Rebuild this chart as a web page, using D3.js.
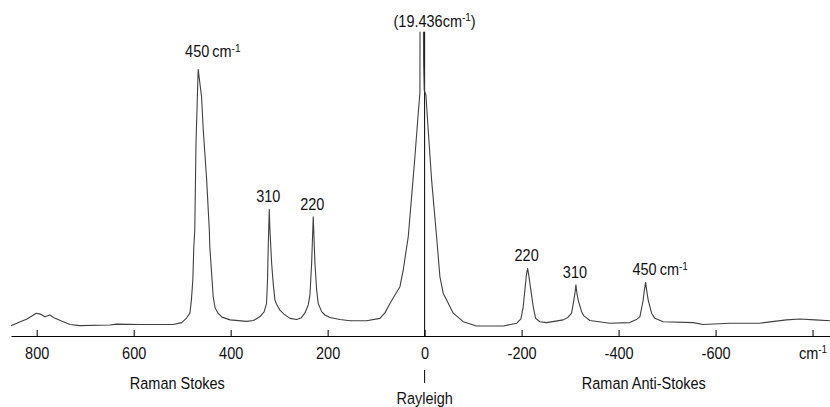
<!DOCTYPE html>
<html>
<head>
<meta charset="utf-8">
<script src="https://cdn.jsdelivr.net/npm/d3@7/dist/d3.min.js"></script>
<style>
  html, body { margin: 0; padding: 0; background: #fff; }
  svg { display: block; }
  text { font-family: "Liberation Sans", Arial, sans-serif; fill: #111; }
</style>
</head>
<body>
<svg id="chart" width="830" height="407"></svg>
<script>
// Raman spectrum: Stokes (positive shift) and anti-Stokes (negative shift) around the Rayleigh line
const wavenumber = [
  853, 834, 821, 810, 801, 793, 783, 773, 762, 749, 731, 711, 649, 635, 587, 519, 501, 491, 484, 481,
  478, 476, 474, 471.5, 467, 460, 456.5, 449.5, 444, 443, 436, 432, 426, 418, 401, 367, 353, 340, 331, 326,
  324, 322.5, 320.4, 319, 315.5, 312, 308.7, 304.5, 298.4, 290, 277.7, 264, 255, 247, 240, 236.5, 233, 229.7,
  226.2, 222.7, 219.4, 212.4, 205.6, 195.3, 174.6, 154, 119.6, 92.2, 81.9, 71.5, 61.2, 50.9, 44.1, 33.8,
  26.8, 20, 13.2, 9.7, 9.3, 2.7, 2.1, 0.8, -2.7, -7.4, -14.4, -24.7, -31.5, -38.4, -45.4, -59, -79.6,
  -107, -162, -190, -198.6, -203.3, -206.8, -209.9, -212.4, -215.1, -217.1, -224, -228.9, -237.7, -251.5,
  -285.8, -295.5, -303.1, -307.8, -310.9, -312, -314, -316.7, -323.7, -328.5, -340.8, -382, -423, -435.7,
  -443.9, -450.7, -453.2, -455.7, -458.4, -461.1, -468.1, -474.8, -492, -554, -574, -630, -691, -746,
  -774, -805, -836
];
const intensity = [
  3.4, 4.7, 5.5, 6.6, 7.5, 7.2, 6.3, 6.9, 5.8, 4.9, 3.8, 3.4, 3.6, 3.9, 3.8, 3.8, 4.4, 5.9, 7.5, 11.8,
  18.4, 29.3, 34.8, 63.3, 87.6, 78.6, 67.7, 51.3, 34.8, 29.3, 12.9, 9.2, 7.5, 6.2, 5.3, 4.8, 5.1, 6.3, 7.9, 10.7,
  18.4, 29.3, 41.6, 34.8, 23.9, 16.8, 11.8, 10.2, 8.5, 7.2, 5.8, 5.4, 5.9, 7.5, 10.2, 13.5, 23.9, 39.2,
  23.9, 15.1, 10.7, 8.0, 6.9, 6.1, 5.4, 5.0, 5.0, 5.8, 7.6, 10.7, 13.5, 16.2, 21.7, 32.6,
  45.8, 58.9, 73.2, 79.8, 112, 112, 90, 80.8, 79.2, 67.7, 51.3, 32.6, 19.5, 14.0, 11.8, 7.5, 4.7,
  3.3, 3.3, 4.2, 5.6, 9.6, 15.1, 20.0, 22.2, 19.7, 17.3, 9.6, 5.8, 4.7, 4.4,
  5.3, 6.1, 7.5, 11.8, 15.1, 16.8, 14.1, 11.8, 8.0, 6.6, 5.1, 4.2, 4.4, 5.3,
  6.3, 11.8, 15.1, 17.6, 14.5, 11.8, 7.5, 5.8, 4.7, 4.4, 3.8, 4.2, 4.2, 5.3,
  5.6, 5.3, 5.0
];

// axis ticks (the last position carries the unit instead of a number)
const tickValues = [800, 600, 400, 200, 0, -200, -400, -600, -800];
const unitTick = -800;

// labelled peaks
const peakNumber = ["450", "310", "220", "220", "310", "450"];
const peakHasUnit = [true, false, false, false, false, true];
const peakShift = [467, 320.4, 229.7, -212.4, -312, -455.7];

const rayleighNote = "(19.436cm";
const regionNames = ["Raman Stokes", "Rayleigh", "Raman Anti-Stokes"];
const regionCentres = [510, 0, -452];

const points = wavenumber.map((w, i) => ({ w, v: intensity[i] }));

const svg = d3.select("#chart");
const axisY = 336;
const topY = 31.7;

const x = d3.scaleLinear().domain([853, -836]).range([11, 830]);
const y = d3.scaleLinear().domain([0, 100]).range([axisY, topY]);

const FS = 14.5;      // font size
const STRETCH = 1.17; // glyphs are drawn slightly tall

function stretchedText(g, px, py, anchor) {
  return g.append("text")
    .attr("transform", `translate(${px},${py}) scale(1,${STRETCH})`)
    .attr("text-anchor", anchor || "middle")
    .style("font-size", FS + "px");
}

function addUnit(t) {
  t.append("tspan").text("cm");
  t.append("tspan").text("-1").attr("dy", -5).style("font-size", "10px");
}

// clip so the Rayleigh line stops at the top of the plot
svg.append("defs").append("clipPath").attr("id", "plotClip")
  .append("rect").attr("x", 0).attr("y", topY).attr("width", 830).attr("height", axisY - topY);

// zero-shift reference line
svg.append("line")
  .attr("x1", x(0)).attr("x2", x(0))
  .attr("y1", topY).attr("y2", axisY)
  .attr("stroke", "#000").attr("stroke-width", 1);

// spectrum
const line = d3.line().x(d => x(d.w)).y(d => y(d.v));
svg.append("path")
  .datum(points)
  .attr("clip-path", "url(#plotClip)")
  .attr("fill", "none")
  .attr("stroke", "#404040")
  .attr("stroke-width", 1.1)
  .attr("stroke-linejoin", "round")
  .attr("d", line);

// x axis with ticks pointing into the plot
const axis = d3.axisBottom(x)
  .tickValues(tickValues)
  .tickSizeInner(-6)
  .tickSizeOuter(0)
  .tickFormat(d => d === unitTick ? "" : String(d));

const gAxis = svg.append("g")
  .attr("transform", `translate(0,${axisY})`)
  .call(axis);
gAxis.select(".domain").attr("stroke", "#000").attr("stroke-width", 1);
gAxis.selectAll(".tick line").attr("stroke", "#000");
gAxis.selectAll(".tick text")
  .attr("y", null).attr("dy", null)
  .attr("fill", "#111")
  .attr("font-family", null)
  .attr("transform", `translate(0,23) scale(1,${STRETCH})`)
  .style("font-size", FS + "px");

// unit label at the last tick
gAxis.selectAll(".tick").filter(d => d === unitTick).select("text")
  .each(function () { addUnit(d3.select(this)); });

// peak labels
const gPeaks = svg.append("g");
peakShift.forEach((w, i) => {
  const idx = d3.minIndex(points, p => Math.abs(p.w - w));
  const px = x(points[idx].w) - 1;
  const lift = i === 0 ? 12 : 7;
  const py = y(points[idx].v) - lift;
  const t = stretchedText(gPeaks, px, py, "middle").text(peakNumber[i]);
  if (peakHasUnit[i]) {
    const half = t.node().getComputedTextLength() / 2;
    addUnit(stretchedText(gPeaks, px + half + 3, py, "start"));
  }
});

// Rayleigh line note at the top
const note = stretchedText(svg, x(0) + 10, 27, "middle");
note.append("tspan").text(rayleighNote);
note.append("tspan").text("-1").attr("dy", -5).style("font-size", "10px");
note.append("tspan").text(")").attr("dy", 5);

// region captions under the axis
stretchedText(svg, x(regionCentres[0]), 389, "middle").text(regionNames[0]);
stretchedText(svg, x(regionCentres[2]), 389, "middle").text(regionNames[2]);
stretchedText(svg, x(regionCentres[1]), 404, "middle").text(regionNames[1]);

// short marker between the zero tick label and the Rayleigh caption
svg.append("line")
  .attr("x1", x(0)).attr("x2", x(0))
  .attr("y1", 370).attr("y2", 383)
  .attr("stroke", "#000").attr("stroke-width", 1);
</script>
</body>
</html>
